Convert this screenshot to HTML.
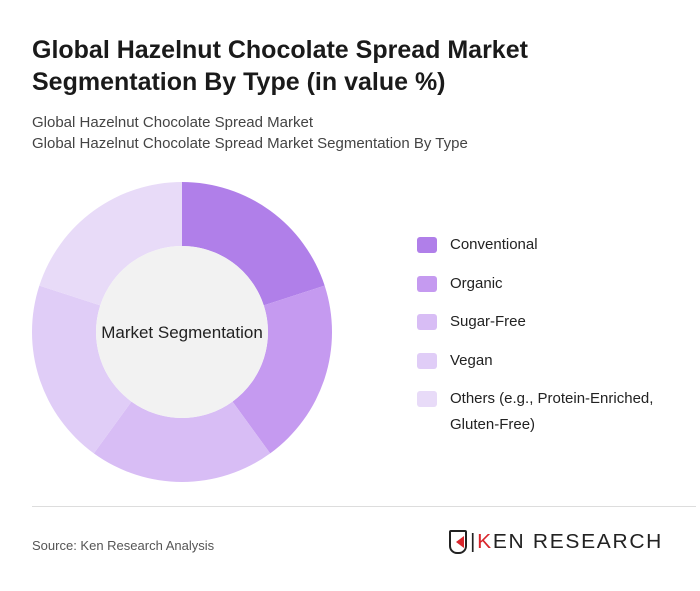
<!DOCTYPE html>
<html><head><meta charset="utf-8"><style>
body{margin:0;width:700px;height:591px;background:#fff;font-family:"Liberation Sans",sans-serif;position:relative;overflow:hidden}
.t{position:absolute;left:32px;top:34px;font-size:25px;font-weight:bold;color:#1a1a1a;line-height:32px}
.s{position:absolute;left:32px;font-size:15px;color:#444}
.leg{position:absolute;left:417px;font-size:15px;color:#222;line-height:26px}
.sw{position:absolute;left:417px;width:20px;height:16px;border-radius:3px}
</style></head><body>
<div class="t">Global Hazelnut Chocolate Spread Market<br>Segmentation By Type (in value %)</div>
<div class="s" style="top:114px">Global Hazelnut Chocolate Spread Market</div>
<div class="s" style="top:135px">Global Hazelnut Chocolate Spread Market Segmentation By Type</div>
<svg id="c" width="700" height="591" style="position:absolute;left:0;top:0"></svg>
<div id="lg"></div>
<div style="position:absolute;left:32px;right:4px;top:506px;border-top:1px solid #ddd"></div>
<div class="s" style="top:538px;font-size:13px;color:#555">Source: Ken Research Analysis</div>
<div style="position:absolute;left:449px;top:530px;width:18px;height:24px;border:2px solid #222;border-radius:2px 2px 8px 8px;box-sizing:border-box"><div style="position:absolute;left:5px;top:4px;width:0;height:0;border-top:6px solid transparent;border-bottom:6px solid transparent;border-right:8px solid #d9262c"></div></div>
<div style="position:absolute;left:470px;top:531px;font-size:20px;color:#222;letter-spacing:1.6px;transform:scaleX(1.05);transform-origin:left">|<span style="color:#d9262c">K</span>EN RESEARCH</div>
<script>
const categories=["Conventional","Organic","Sugar-Free","Vegan","Others (e.g., Protein-Enriched,<br>Gluten-Free)"];
const values=[20,20,20,20,20];
const colors=["#b07fe9","#c59af0","#d8bdf5","#e0cdf7","#e8dbf8"];
const svg=document.getElementById('c');const NS="http://www.w3.org/2000/svg";
const cx=182,cy=332,R=150,r=86;
const tot=values.reduce((a,b)=>a+b,0);let a0=0;
function pt(a,rad){return [cx+rad*Math.sin(a),cy-rad*Math.cos(a)];}
values.forEach((v,i)=>{const a1=a0+v/tot*2*Math.PI;const L=(a1-a0)>Math.PI?1:0;
const [x0,y0]=pt(a0,R),[x1,y1]=pt(a1,R),[x2,y2]=pt(a1,r),[x3,y3]=pt(a0,r);
const p=document.createElementNS(NS,'path');
p.setAttribute('d',`M${x0},${y0}A${R},${R} 0 ${L} 1 ${x1},${y1}L${x2},${y2}A${r},${r} 0 ${L} 0 ${x3},${y3}Z`);
p.setAttribute('fill',colors[i]);


svg.appendChild(p);a0=a1;});
const c=document.createElementNS(NS,'circle');c.setAttribute('cx',cx);c.setAttribute('cy',cy);c.setAttribute('r',r);c.setAttribute('fill','#f2f2f2');


svg.appendChild(c);
const t=document.createElementNS(NS,'text');t.setAttribute('x',cx);t.setAttribute('y',cy+6);t.setAttribute('text-anchor','middle');t.setAttribute('font-size','17');t.setAttribute('fill','#222');t.setAttribute('font-family','Liberation Sans, sans-serif');t.textContent='Market Segmentation';


svg.appendChild(t);
const lg=document.getElementById('lg');
categories.forEach((n,i)=>{const y=237+i*38.5;
const s=document.createElement('div');s.className='sw';s.style.top=y+'px';s.style.background=colors[i];


lg.appendChild(s);
const l=document.createElement('div');l.className='leg';l.style.left='450px';l.style.top=(y-5)+'px';l.innerHTML=n;


lg.appendChild(l);});
</script>
</body></html>
